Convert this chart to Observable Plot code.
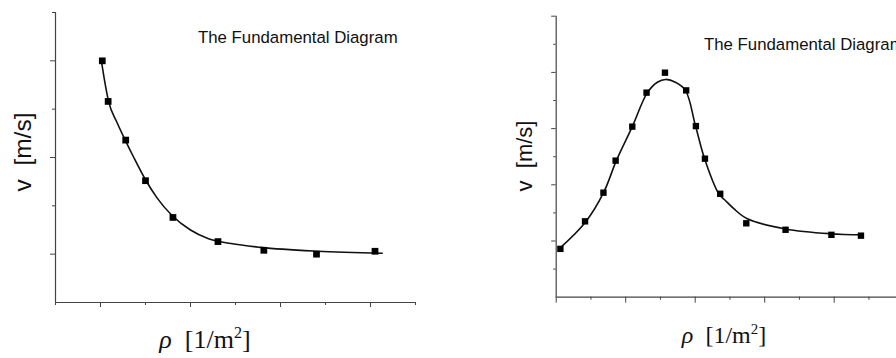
<!DOCTYPE html>
<html><head><meta charset="utf-8">
<script src="https://cdn.jsdelivr.net/npm/d3@7"></script>
<script src="https://cdn.jsdelivr.net/npm/@observablehq/plot@0.6"></script>
<style>
html,body{margin:0;padding:0;background:#fff;overflow:hidden;}
#wrap{position:relative;width:896px;height:358px;overflow:hidden;background:#fff;}
.panel{position:absolute;top:0;}
.title{position:absolute;font-family:"Liberation Sans",Arial,sans-serif;font-size:16.8px;line-height:1;color:#111;white-space:nowrap;}
.ylab{position:absolute;font-family:"Liberation Sans",Arial,sans-serif;line-height:1;color:#111;white-space:nowrap;transform:translate(-50%,-50%) rotate(-90deg);}
.xlab{position:absolute;font-family:"Liberation Serif","Times New Roman",serif;line-height:1;color:#111;white-space:nowrap;transform:translateX(-50%);}
.xlab sup{font-size:0.62em;vertical-align:0.6em;line-height:0;}
</style>
</head><body>
<div id="wrap"></div>
<script>
// ---- Left panel: measured points and fitted curve ----
const leftDensity = [1.04, 1.17, 1.56, 2.0, 2.61, 3.61, 4.63, 5.80, 7.10];
const leftSpeed   = [2.50, 2.08, 1.68, 1.26, 0.88, 0.63, 0.54, 0.50, 0.53];
const leftFitDensity = [1.02, 1.10, 1.18, 1.37, 1.56, 1.74, 2.0, 2.26, 2.59, 3.0, 3.4, 3.9, 4.56, 5.82, 7.26];
const leftFitSpeed   = [2.50, 2.27, 2.08, 1.86, 1.67, 1.50, 1.27, 1.08, 0.90, 0.75, 0.66, 0.61, 0.57, 0.53, 0.51];
const leftXMajorTicks = [1, 3, 5, 7];
const leftXMinorTicks = [0, 2, 4, 6, 8];
const leftYMajorTicks = [0.5, 1.5, 2.5];
const leftYMinorTicks = [1, 2, 3];

// ---- Right panel: measured points and fitted curve ----
const rightDensity = [0.12, 0.83, 1.36, 1.71, 2.19, 2.60, 3.13, 3.74, 4.02, 4.28, 4.72, 5.47, 6.60, 7.92, 8.77];
const rightSpeed   = [1.72, 2.70, 3.72, 4.86, 6.07, 7.28, 7.99, 7.36, 6.09, 4.93, 3.68, 2.63, 2.40, 2.22, 2.19];
const rightFitDensity = [0.10, 0.84, 1.37, 1.73, 2.19, 2.62, 2.91, 3.15, 3.43, 3.72, 4.01, 4.27, 4.68, 4.87, 5.11, 5.50, 6.60, 7.89, 8.80];
const rightFitSpeed   = [1.74, 2.67, 3.74, 4.86, 6.07, 7.27, 7.65, 7.75, 7.65, 7.36, 6.09, 4.93, 3.68, 3.44, 3.15, 2.79, 2.43, 2.26, 2.22];
const rightXMajorTicks = [0, 2, 4, 6, 8, 10];
const rightXMinorTicks = [1, 3, 5, 7, 9];
const rightYMajorTicks = [2, 4, 6, 8, 10];
const rightYMinorTicks = [1, 3, 5, 7, 9];

const titleText = "The Fundamental Diagram";
const axisColor = "#444";

const toRows = (xs, ys) => xs.map((x, i) => ({x, y: ys[i]}));
const blank = () => "";

function panel({width, height, mL, mR, mT, mB, xDomain, yDomain, pts, fit, curve, xMaj, xMin, yMaj, yMin, xMajLen, xMinLen, yMajLen, yMinLen, r}) {
  return Plot.plot({
    width, height,
    marginLeft: mL, marginRight: mR, marginTop: mT, marginBottom: mB,
    x: {domain: xDomain, axis: null},
    y: {domain: yDomain, axis: null},
    style: {background: "transparent", overflow: "visible"},
    marks: [
      Plot.ruleX([xDomain[0]], {stroke: axisColor, strokeWidth: 1.2}),
      Plot.ruleY([yDomain[0]], {stroke: axisColor, strokeWidth: 1.2}),
      Plot.axisX(xMaj, {tickSize: xMajLen, tickFormat: blank, label: null, stroke: axisColor}),
      Plot.axisX(xMin, {tickSize: xMinLen, tickFormat: blank, label: null, stroke: axisColor}),
      Plot.axisY(yMaj, {tickSize: yMajLen, tickFormat: blank, label: null, stroke: axisColor}),
      Plot.axisY(yMin, {tickSize: yMinLen, tickFormat: blank, label: null, stroke: axisColor}),
      Plot.line(fit, {x: "x", y: "y", curve, stroke: "#111", strokeWidth: 1.6}),
      Plot.dot(pts, {x: "x", y: "y", symbol: "square", r, fill: "#000", stroke: null})
    ]
  });
}

const wrap = document.getElementById("wrap");

const left = panel({
  width: 448, height: 358, mL: 55, mR: 33, mT: 12, mB: 56,
  xDomain: [0, 8], yDomain: [0, 3],
  pts: toRows(leftDensity, leftSpeed), fit: toRows(leftFitDensity, leftFitSpeed), curve: "monotone-x",
  xMaj: leftXMajorTicks, xMin: leftXMinorTicks, yMaj: leftYMajorTicks, yMin: leftYMinorTicks,
  xMajLen: 5, xMinLen: 3, yMajLen: 5, yMinLen: 3, r: 3.8
});
left.classList.add("panel");
left.style.left = "0px";
wrap.appendChild(left);

const right = panel({
  width: 480, height: 358, mL: 107.7, mR: 24.8, mT: 15.7, mB: 61.3,
  xDomain: [0, 10], yDomain: [0, 10],
  pts: toRows(rightDensity, rightSpeed), fit: toRows(rightFitDensity, rightFitSpeed), curve: "catmull-rom",
  xMaj: rightXMajorTicks, xMin: rightXMinorTicks, yMaj: rightYMajorTicks, yMin: rightYMinorTicks,
  xMajLen: 6, xMinLen: 3, yMajLen: 4.5, yMinLen: 2.5, r: 3.6
});
right.classList.add("panel");
right.style.left = "448px";
wrap.appendChild(right);

function addText(cls, html, css) {
  const d = document.createElement("div");
  d.className = cls;
  d.innerHTML = html;
  Object.assign(d.style, css);
  wrap.appendChild(d);
}
addText("title", titleText, {left: "198px", top: "29.8px"});
addText("title", titleText, {left: "704px", top: "36.8px"});
addText("ylab", "v&nbsp;&nbsp;[m/s]", {left: "22.5px", top: "152px", fontSize: "24.5px"});
addText("ylab", "v&nbsp;&nbsp;[m/s]", {left: "525px", top: "156px", fontSize: "22px"});
addText("xlab", "<i>ρ</i>&nbsp;&nbsp;[1/m<sup>2</sup>]", {left: "205px", top: "327px", fontSize: "26px"});
addText("xlab", "<i>ρ</i>&nbsp;&nbsp;[1/m<sup>2</sup>]", {left: "724px", top: "323px", fontSize: "24px"});
</script>
</body></html>
